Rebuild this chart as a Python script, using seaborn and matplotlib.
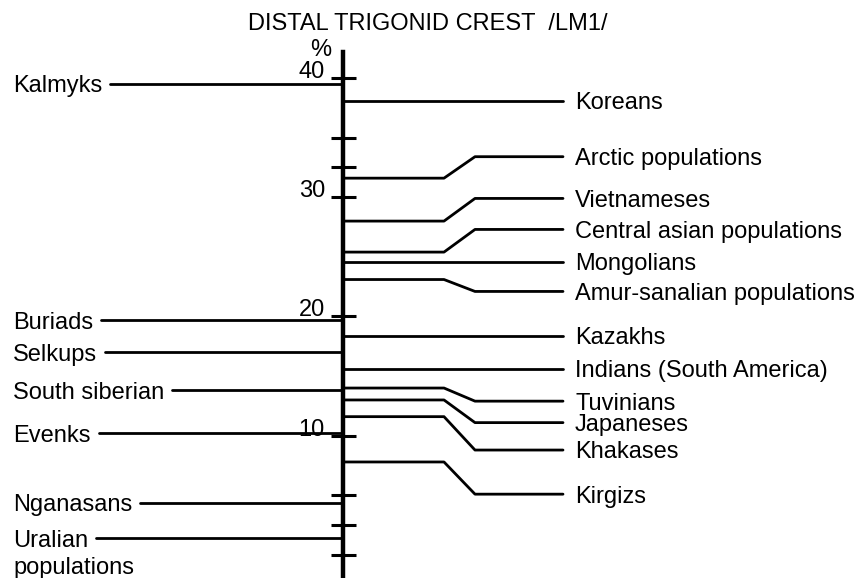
import matplotlib
matplotlib.use("Agg")
import matplotlib.pyplot as plt
import matplotlib.transforms as mtransforms
import seaborn as sns
import pandas as pd

# ---------------- data ----------------
title = "DISTAL TRIGONID CREST  /LM1/"
unit_label = "%"

right_names = ["Koreans", "Arctic populations", "Vietnameses",
               "Central asian populations", "Mongolians",
               "Amur-sanalian populations", "Kazakhs",
               "Indians (South America)", "Tuvinians", "Japaneses",
               "Khakases", "Kirgizs"]
right_values = [38.1, 31.6, 28.0, 25.4, 24.6, 23.1, 18.4, 15.6, 14.0, 13.0, 11.6, 7.8]

left_names = ["Kalmyks", "Buriads", "Selkups", "South siberian", "Evenks",
              "Nganasans", "Uralian\npopulations"]
left_values = [39.5, 19.7, 17.0, 13.8, 10.2, 4.4, 1.4]

tick_values = [40, 35, 32.5, 30, 20, 10, 5, 2.5, 0]
tick_labels = ["40", "", "", "30", "20", "10", "", "", ""]

# ---------------- layout ----------------
# label heights on the right side (where the labels are moved to avoid overlap)
right_label_y = [38.1, 33.4, 29.9, 27.3, 24.6, 22.1, 18.4, 15.6, 12.9, 11.1, 8.8, 5.1]

W, H, DPI = 860, 578, 100
AX_X = 343          # x position of the scale (pixels == data units on x)
BEND1, BEND2 = 444, 475
R_END, R_TEXT = 563, 575
L_TEXT, GAP = 13, 8
Y_LIM = (-1.93, 46.54)
Y_TOP = 42.2
FS = 17
LW = 2.0
HALF_CAP = 0.716 * FS / 2  # points

sns.set_theme(style="white")
plt.rcParams["font.family"] = ["Liberation Sans", "DejaVu Sans"]

fig = plt.figure(figsize=(W / DPI, H / DPI), dpi=DPI)
ax = fig.add_axes([0, 0, 1, 1])
ax.set_xlim(0, W)
ax.set_ylim(*Y_LIM)

cap_tr = mtransforms.offset_copy(ax.transData, fig=fig, x=0, y=-HALF_CAP, units="points")

# left labels (need their extents to start the lines)
left_texts = []
for name, v in zip(left_names, left_values):
    lines = name.split("\n")
    t = ax.text(L_TEXT, v, lines[0], transform=cap_tr, ha="left", va="baseline",
                fontsize=FS, color="black")
    left_texts.append(t)
    for i, extra in enumerate(lines[1:], start=1):
        tr = mtransforms.offset_copy(ax.transData, fig=fig, x=0,
                                     y=-HALF_CAP - i * FS * 1.15, units="points")
        ax.text(L_TEXT, v, extra, transform=tr, ha="left", va="baseline",
                fontsize=FS, color="black")

fig.canvas.draw()
renderer = fig.canvas.get_renderer()

rows = []
for t, name, v in zip(left_texts, left_names, left_values):
    bb = t.get_window_extent(renderer)
    x0 = ax.transData.inverted().transform((bb.x1 + GAP, 0))[0]
    rows.append(dict(name="L_" + name, order=0, x=x0, y=v))
    rows.append(dict(name="L_" + name, order=1, x=AX_X, y=v))

for name, v, ly in zip(right_names, right_values, right_label_y):
    pts = [(AX_X, v), (BEND1, v), (BEND2, ly), (R_END, ly)] if abs(ly - v) > 1e-9 \
        else [(AX_X, v), (R_END, v)]
    for k, (x, y) in enumerate(pts):
        rows.append(dict(name="R_" + name, order=k, x=x, y=y))
    ax.text(R_TEXT, ly, name, transform=cap_tr, ha="left", va="baseline",
            fontsize=FS, color="black")

df = pd.DataFrame(rows)
sns.lineplot(data=df, x="x", y="y", units="name", estimator=None, sort=False,
             color="black", linewidth=LW, ax=ax, legend=False)

ax.set_xlim(0, W)
ax.set_ylim(*Y_LIM)

# scale axis
for s in ["top", "right", "bottom"]:
    ax.spines[s].set_visible(False)
ax.spines["left"].set_position(("data", AX_X))
ax.spines["left"].set_bounds(Y_LIM[0], Y_TOP)
ax.spines["left"].set_linewidth(3.2)
ax.spines["left"].set_color("black")
ax.set_xticks([])
ax.set_yticks(tick_values)
ax.set_yticklabels([""] * len(tick_values))
ax.tick_params(axis="y", direction="inout", length=18, width=2.2, color="black",
               left=True)
ax.set_xlabel("")
ax.set_ylabel("")
ax.grid(False)

for v, lab in zip(tick_values, tick_labels):
    if lab:
        ax.text(325, v, lab, ha="right", va="baseline", fontsize=FS, color="black")

fig.text(248 / W, 1 - 30 / H, title, ha="left", va="baseline", fontsize=FS, color="black")
fig.text(321 / W, 1 - 56 / H, unit_label, ha="center", va="baseline", fontsize=FS,
         color="black")

fig.savefig("out.png", dpi=DPI, facecolor="white")
